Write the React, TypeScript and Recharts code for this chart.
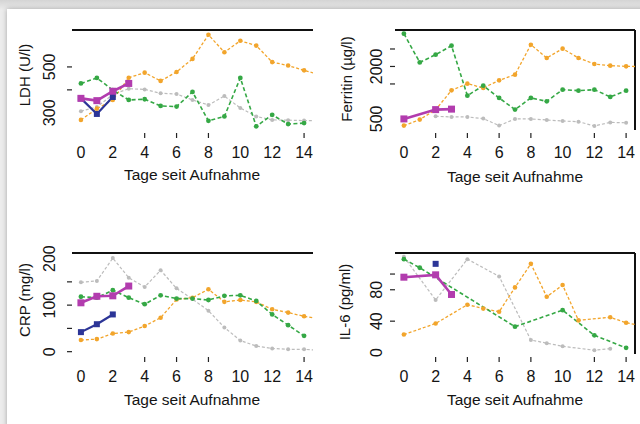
import { LineChart, Line, XAxis, YAxis, ReferenceLine } from "recharts";

// days since admission (15 lies just past the right edge)
const days = [0, 1, 2, 3, 4, 5, 6, 7, 8, 9, 10, 11, 12, 13, 14, 15];
const dayTicks = [0, 2, 4, 6, 8, 10, 12, 14];

type V = number | null;

// LDH (U/l)
const ldhGreen: V[] = [428, 452, 399, 356, 359, 330, 327, 391, 265, 284, 452, 241, 291, 251, 255, null];
const ldhOrange: V[] = [269, 318, 356, 453, 475, 439, 478, 535, 640, 564, 614, 593, 521, 506, 485, 465];
const ldhGray: V[] = [307, 325, 380, 405, 402, 385, 382, 356, 334, 373, 321, 284, 269, 268, 266, 266];
const ldhMagenta: V[] = [363, 353, 394, 428];
const ldhBlue: V[] = [363, 295, 369];

// Ferritin (µg/l)
const ferGreen: V[] = [2937, 2117, 2337, 2594, 1166, 1451, 1100, 766, 1100, 1003, 1337, 1309, 1337, 1129, 1309, null];
const ferOrange: V[] = [309, 480, 763, 1317, 1509, 1386, 1603, 1766, 2623, 2243, 2509, 2243, 2071, 2023, 2003, 1995];
const ferGray: V[] = [null, null, 574, 557, 557, 509, 309, 500, 500, 470, 440, 420, 300, 400, 389, null];
const ferMagenta: V[] = [500, null, 766, 780];

// CRP (mg/l)
const crpGreen: V[] = [118, 116, 132, 116, 102, 121, 114, 114, 111, 120, 121, 109, 80, 57, 34, null];
const crpOrange: V[] = [25, 27, 39, 42, 55, 73, 112, 116, 134, 107, 111, 107, 91, 84, 76, 70];
const crpGray: V[] = [149, 152, 201, 159, 139, 175, 136, 113, 88, 52, 24, 12, 7, 5, 5, 3];
const crpMagenta: V[] = [105, 119, 120, 141];
const crpBlue: V[] = [42, 59, 80];

// IL-6 (pg/ml)
const il6Green: V[] = [119, 108, null, null, null, null, null, 33, null, null, 54, null, 22, null, 6, null];
const il6Orange: V[] = [23, null, 37, null, 61, 56, 52, 83, 113, 71, 86, 41, null, 45, 38, 34];
const il6Gray: V[] = [122, null, 67, null, 119, null, 97, null, 16, 12, 8, null, 3, 5, null, null];
const il6Magenta: V[] = [96, null, 99, 74];
const il6Blue: V[] = [null, null, 113];

const styles: Record<string, { color: string; width: number; dash?: string; square: boolean; size: number }> = {
  gray: { color: "#bcbcbc", width: 1.2, dash: "3 2", square: false, size: 2 },
  orange: { color: "#f2a52c", width: 1.3, dash: "3 2", square: false, size: 2.3 },
  green: { color: "#35a845", width: 1.6, dash: "4 2.5", square: false, size: 2.4 },
  blue: { color: "#2c3597", width: 2.2, square: true, size: 6 },
  magenta: { color: "#b23cae", width: 2.6, square: true, size: 7 },
};
const order = ["gray", "orange", "green", "blue", "magenta"];

const rows = (s: Record<string, V[]>) =>
  days.map((d, i) => {
    const r: any = { day: d };
    for (const k of Object.keys(s)) r[k] = s[k][i] ?? null;
    return r;
  });

const makeDot = (key: string) => (p: any) => {
  const st = styles[key];
  const { cx, cy, payload, index } = p;
  if (cx == null || cy == null || !payload || payload[key] == null || payload.day > 14.6)
    return <g key={`d${index}`} />;
  if (st.square) {
    const h = st.size / 2;
    return <rect key={`d${index}`} x={cx - h} y={cy - h} width={st.size} height={st.size} fill={st.color} />;
  }
  return <circle key={`d${index}`} cx={cx} cy={cy} r={st.size} fill={st.color} />;
};

const FONT = '"Liberation Sans", Arial, sans-serif';
const INK = "#141414";

interface PanelProps {
  left: number;
  top: number;
  height: number;
  yAxisWidth: number;
  marginTop: number;
  marginRight: number;
  data: any[];
  domain: [number, number];
  yTicks: number[];
  yMarks: number[];
  yLabels: number[];
  xMarks: number[];
  labelOff: number;
  rightLine: boolean;
}

function Panel(p: PanelProps) {
  const keys = order.filter((k) => k in p.data[0]);
  return (
    <div style={{ position: "absolute", left: p.left, top: p.top }}>
      <LineChart
        width={320}
        height={p.height}
        data={p.data}
        margin={{ top: p.marginTop, right: p.marginRight, bottom: 40, left: 0 }}
      >
        <XAxis
          type="number"
          dataKey="day"
          domain={[-0.56, 14.56]}
          allowDataOverflow
          ticks={dayTicks}
          interval={0}
          height={30}
          axisLine={false}
          tickLine={false}
          tickSize={0}
          tickMargin={0}
          tick={(t: any) => (
            <g>
              {p.xMarks.includes(t.payload.value) && (
                <line x1={t.x} x2={t.x} y1={t.y + 3} y2={t.y + 8} stroke="#222" strokeWidth={1.2} />
              )}
              <text x={t.x} y={t.y + 28} textAnchor="middle" fontSize={16} fontFamily={FONT} fill={INK}>
                {t.payload.value}
              </text>
            </g>
          )}
        />
        <YAxis
          type="number"
          domain={p.domain}
          allowDataOverflow
          ticks={p.yTicks}
          interval={0}
          width={p.yAxisWidth}
          axisLine={false}
          tickLine={false}
          tickSize={0}
          tickMargin={0}
          tick={(t: any) => (
            <g>
              {p.yMarks.includes(t.payload.value) && (
                <line x1={t.x - 5} x2={t.x} y1={t.y} y2={t.y} stroke="#222" strokeWidth={1.2} />
              )}
              {p.yLabels.includes(t.payload.value) && (
                <text
                  transform={`translate(${t.x - p.labelOff},${t.y}) rotate(-90)`}
                  textAnchor="middle"
                  dominantBaseline="central"
                  fontSize={16}
                  fontFamily={FONT}
                  fill={INK}
                >
                  {t.payload.value}
                </text>
              )}
            </g>
          )}
        />
        <ReferenceLine y={p.domain[1]} stroke="#111" strokeWidth={2} />
        {p.rightLine && <ReferenceLine x={14.56} stroke="#111" strokeWidth={2} />}
        {keys.map((k) => (
          <Line
            key={k}
            type="linear"
            dataKey={k}
            stroke={styles[k].color}
            strokeWidth={styles[k].width}
            strokeDasharray={styles[k].dash}
            connectNulls
            dot={makeDot(k)}
            activeDot={false}
            isAnimationActive={false}
          />
        ))}
      </LineChart>
    </div>
  );
}

const titleStyle: React.CSSProperties = {
  position: "absolute",
  width: 200,
  height: 20,
  lineHeight: "20px",
  textAlign: "center",
  fontFamily: FONT,
  color: INK,
  whiteSpace: "nowrap",
};

const XTitle = ({ cx, cy }: { cx: number; cy: number }) => (
  <div style={{ ...titleStyle, fontSize: 15.5, left: cx - 100, top: cy - 10 }}>Tage seit Aufnahme</div>
);
const YTitle = ({ cx, cy, text }: { cx: number; cy: number; text: string }) => (
  <div style={{ ...titleStyle, fontSize: 15, left: cx - 100, top: cy - 10, transform: "rotate(-90deg)" }}>{text}</div>
);

export default function App() {
  return (
    <div
      style={{
        position: "absolute",
        left: 0,
        top: 0,
        width: 640,
        height: 424,
        overflow: "hidden",
        background: "linear-gradient(#d4d4d4, #ececec 10px)",
      }}
    >
      <div
        style={{
          position: "absolute",
          left: 7,
          top: 9,
          width: 640,
          height: 420,
          background: "#fff",
          boxShadow: "0 0 5px rgba(0,0,0,0.3)",
        }}
      />
      <Panel
        left={0}
        top={0}
        height={200}
        yAxisWidth={72}
        marginTop={30}
        marginRight={7}
        data={rows({ gray: ldhGray, orange: ldhOrange, green: ldhGreen, blue: ldhBlue, magenta: ldhMagenta })}
        domain={[225, 661]}
        yTicks={[300, 400, 500]}
        yMarks={[400, 500]}
        yLabels={[300, 500]}
        xMarks={[4, 6, 8, 14]}
        labelOff={23}
        rightLine={false}
      />
      <Panel
        left={320}
        top={0}
        height={200}
        yAxisWidth={75}
        marginTop={30}
        marginRight={5}
        data={rows({ gray: ferGray, orange: ferOrange, green: ferGreen, magenta: ferMagenta })}
        domain={[183, 3043]}
        yTicks={[500, 1500, 2000, 2500]}
        yMarks={[1500, 2000, 2500]}
        yLabels={[500, 2000]}
        xMarks={[2, 4, 6, 8, 12, 14]}
        labelOff={19}
        rightLine
      />
      <Panel
        left={0}
        top={220}
        height={204}
        yAxisWidth={72}
        marginTop={33}
        marginRight={7}
        data={rows({ gray: crpGray, orange: crpOrange, green: crpGreen, blue: crpBlue, magenta: crpMagenta })}
        domain={[-5, 212]}
        yTicks={[0, 50, 100, 150, 200]}
        yMarks={[0, 50, 100, 150]}
        yLabels={[0, 100, 200]}
        xMarks={[4, 6, 8, 14]}
        labelOff={23}
        rightLine={false}
      />
      <Panel
        left={320}
        top={220}
        height={204}
        yAxisWidth={75}
        marginTop={33}
        marginRight={5}
        data={rows({ gray: il6Gray, orange: il6Orange, green: il6Green, blue: il6Blue, magenta: il6Magenta })}
        domain={[-1.8, 126.8]}
        yTicks={[0, 40, 80, 100]}
        yMarks={[40, 80, 100]}
        yLabels={[0, 40, 80]}
        xMarks={[2, 4, 6, 8, 12, 14]}
        labelOff={19}
        rightLine
      />
      <XTitle cx={192} cy={175} />
      <XTitle cx={515} cy={177} />
      <XTitle cx={192} cy={400} />
      <XTitle cx={515} cy={400} />
      <YTitle cx={25} cy={75} text="LDH (U/l)" />
      <YTitle cx={347} cy={79} text="Ferritin (µg/l)" />
      <YTitle cx={25} cy={300} text="CRP (mg/l)" />
      <YTitle cx={345} cy={302} text="IL-6 (pg/ml)" />
    </div>
  );
}
